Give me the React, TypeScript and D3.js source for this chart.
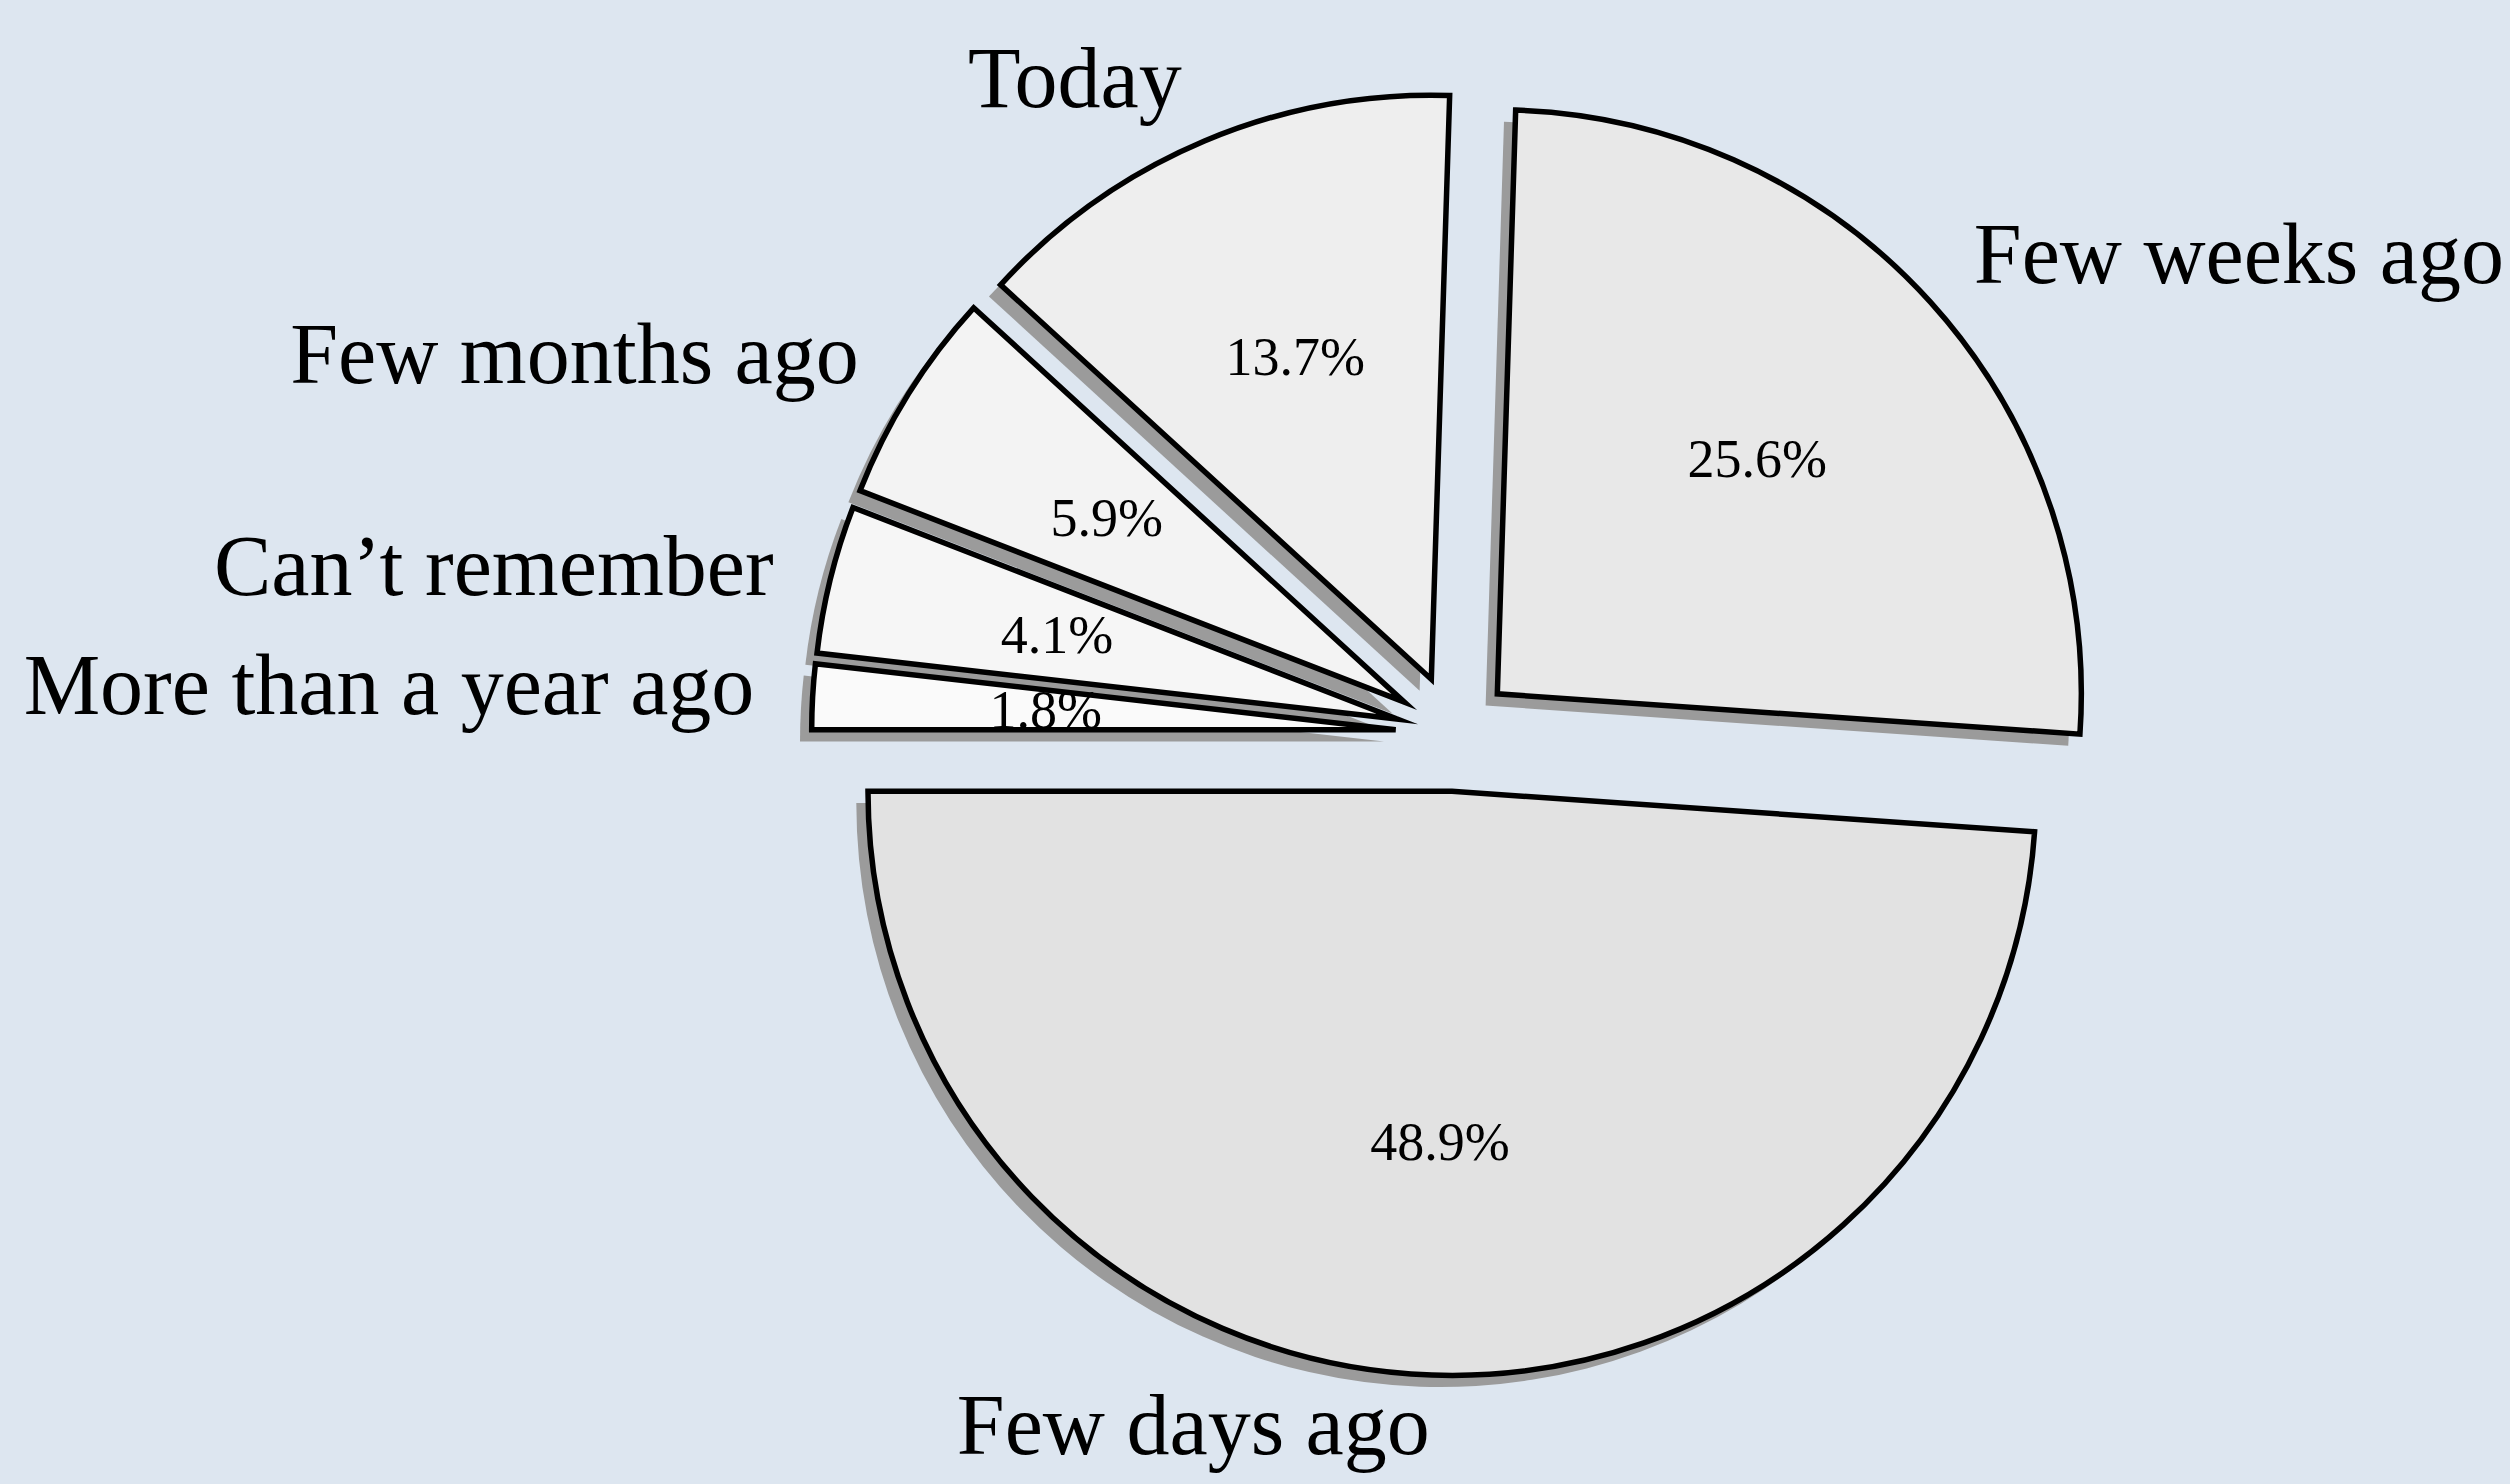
import React from "react";
import * as d3 from "d3";

const categories = ["Few days ago", "Few weeks ago", "Today", "Few months ago", "Can\u2019t remember", "More than a year ago"];
const values = [48.9, 25.6, 13.7, 5.9, 4.1, 1.8];
const pctLabels = ["48.9%", "25.6%", "13.7%", "5.9%", "4.1%", "1.8%"];
const fills = ["#e2e2e2", "#e8e8e8", "#eeeeee", "#f3f3f3", "#f6f6f6", "#fafafa"];
const hasDescender = [true, true, true, true, false, true];

const W = 2510;
const H = 1484;
const BG = "#dde6f0";
const CX = 1454;
const CY = 733;
const R = 584;
const EXPLODE = 0.1;
const LABEL_DIST = 1.1;
const PCT_DIST = 0.6;
const SHADOW = 0.02;
const LABEL_FS = 86;
const PCT_FS = 54;
const FONT = "'Liberation Serif', 'Times New Roman', serif";

export default function App() {
  const pie = d3
    .pie<number>()
    .sort(null)
    .value((d) => d)
    .startAngle(-Math.PI / 2)
    .endAngle(-Math.PI / 2 - 2 * Math.PI);
  const arcs = pie(values);
  const arcGen = d3.arc<d3.PieArcDatum<number>>().innerRadius(0).outerRadius(R);

  const items = arcs.map((a, i) => {
    const mid = (a.startAngle + a.endAngle) / 2;
    const dx = Math.sin(mid);
    const dy = -Math.cos(mid);
    const ox = CX + EXPLODE * R * dx;
    const oy = CY + EXPLODE * R * dy;
    const lx = ox + LABEL_DIST * R * dx;
    const ly = oy + LABEL_DIST * R * dy;
    const px = ox + PCT_DIST * R * dx;
    const py = oy + PCT_DIST * R * dy;
    const anchor = lx - CX > 0 ? "start" : "end";
    const lBase = ly + 0.345 * LABEL_FS - (hasDescender[i] ? 0.11 * LABEL_FS : 0);
    const pBase = py + 0.34 * PCT_FS;
    return { a, i, ox, oy, lx, lBase, px, pBase, anchor, path: arcGen(a) as string };
  });

  return (
    <svg
      width={W}
      height={H}
      style={{ position: "absolute", left: 0, top: 0, display: "block", background: BG }}
    >
      <rect x={0} y={0} width={W} height={H} fill={BG} />
      {items.map((it) => (
        <path
          key={"s" + it.i}
          d={it.path}
          transform={`translate(${it.ox - SHADOW * R},${it.oy + SHADOW * R})`}
          fill="#9b9b9b"
        />
      ))}
      {items.map((it) => (
        <path
          key={"w" + it.i}
          d={it.path}
          transform={`translate(${it.ox},${it.oy})`}
          fill={fills[it.i]}
          stroke="#000"
          strokeWidth={5.5}
          strokeLinejoin="miter"
          strokeMiterlimit={10}
        />
      ))}
      {items.map((it) => (
        <text
          key={"p" + it.i}
          x={it.px}
          y={it.pBase}
          textAnchor="middle"
          fontFamily={FONT}
          fontSize={PCT_FS}
          fill="#000"
        >
          {pctLabels[it.i]}
        </text>
      ))}
      {items.map((it) => (
        <text
          key={"l" + it.i}
          x={it.lx}
          y={it.lBase}
          textAnchor={it.anchor}
          fontFamily={FONT}
          fontSize={LABEL_FS}
          fill="#000"
        >
          {categories[it.i]}
        </text>
      ))}
    </svg>
  );
}
